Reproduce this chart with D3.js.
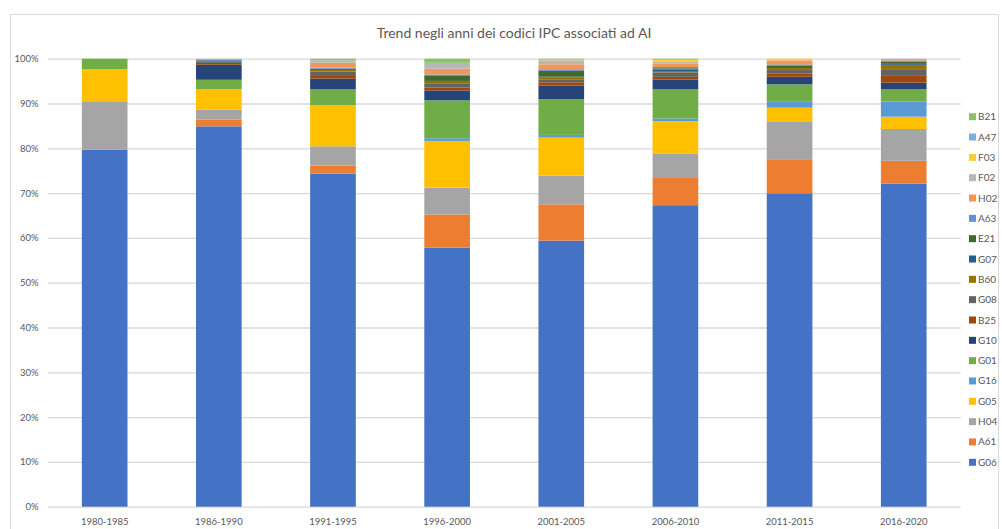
<!DOCTYPE html>
<html>
<head>
<meta charset="utf-8">
<script src="https://cdn.jsdelivr.net/npm/d3@7"></script>
<style>
  html, body { margin: 0; padding: 0; background: #fff; }
  svg { display: block; font-family: Lato, "Open Sans", sans-serif; }
</style>
</head>
<body>
<svg id="chart" width="1002" height="529"></svg>
<script>
// Periods (x categories)
const categories = ["1980-1985", "1986-1990", "1991-1995", "1996-2000", "2001-2005", "2006-2010", "2011-2015", "2016-2020"];

// IPC codes, in stacking order (bottom to top)
const seriesNames = ["G06", "A61", "H04", "G05", "G16", "G01", "G10", "B25", "G08", "B60", "G07", "E21", "A63", "H02", "F02", "F03", "A47", "B21"];

// Share of patents per code and period (%)
const G06 = [79.7, 84.9, 74.3, 57.7, 59.4, 67.3, 69.9, 72.1];
const A61 = [0, 1.5, 1.8, 7.4, 8.1, 6.25, 7.6, 5.1];
const H04 = [10.8, 2.2, 4.3, 6.0, 6.4, 5.2, 8.3, 7.1];
const G05 = [7.2, 4.6, 9.2, 10.4, 8.5, 7.3, 3.2, 2.75];
const G16 = [0, 0, 0, 0.6, 0.6, 0.6, 1.3, 3.35];
const G01 = [2.3, 2.1, 3.5, 8.45, 8.0, 6.5, 3.9, 2.75];
const G10 = [0, 3.35, 2.4, 2.2, 3.0, 2.2, 1.7, 1.5];
const B25 = [0, 0.4, 0.6, 0.67, 0.75, 0.6, 0.67, 1.5];
const G08 = [0, 0.2, 1.0, 0.8, 0.67, 1.0, 0.82, 1.5];
const B60 = [0, 0.1, 0.35, 0.45, 0.37, 0.3, 0.45, 0.97];
const G07 = [0, 0.3, 0.3, 0.2, 0.2, 0.3, 0.22, 0.37];
const E21 = [0, 0, 0, 1.1, 1.3, 0.3, 0.37, 0.3];
const A63 = [0, 0.05, 0.2, 0.35, 0.37, 0.3, 0.22, 0.3];
const H02 = [0, 0.2, 1.1, 1.3, 1.1, 0.75, 0.9, 0.3];
const F02 = [0, 0.1, 0.5, 1.3, 0.9, 0.5, 0, 0.1];
const F03 = [0, 0, 0, 0, 0.15, 0.35, 0.37, 0];
const A47 = [0, 0, 0, 0, 0, 0.1, 0, 0];
const B21 = [0, 0, 0.4, 0.9, 0.2, 0.15, 0, 0];

const seriesValues = { G06, A61, H04, G05, G16, G01, G10, B25, G08, B60, G07, E21, A63, H02, F02, F03, A47, B21 };

// Y axis tick values (fractions of the total)
const yTicks = [0, 0.1, 0.2, 0.3, 0.4, 0.5, 0.6, 0.7, 0.8, 0.9, 1.0];

const colors = {
  G06: "#4472C4", A61: "#ED7D31", H04: "#A5A5A5", G05: "#FFC000", G16: "#5B9BD5",
  G01: "#70AD47", G10: "#264478", B25: "#9E480E", G08: "#636363", B60: "#997300",
  G07: "#255E91", E21: "#43682B", A63: "#698ED0", H02: "#F1975A", F02: "#B7B7B7",
  F03: "#FFCD33", A47: "#7CAFDD", B21: "#8CC168"
};

const title = "Trend negli anni dei codici IPC associati ad AI";

// Build row table for d3.stack
const rows = categories.map((c, i) => {
  const r = { period: c };
  seriesNames.forEach(s => { r[s] = seriesValues[s][i]; });
  return r;
});

const svg = d3.select("#chart");
const textColor = "#595959";
const gridColor = "#D9D9D9";

// Chart frame
svg.append("rect")
  .attr("x", 10.5).attr("y", 14.5)
  .attr("width", 988).attr("height", 530)
  .attr("fill", "#fff").attr("stroke", gridColor).attr("stroke-width", 1);

const plot = { left: 47.6, right: 960.8, top: 58.7, bottom: 506.7 };

const x = d3.scaleBand()
  .domain(categories)
  .range([plot.left, plot.right])
  .paddingInner(0.6)
  .paddingOuter(0.3);

const y = d3.scaleLinear().domain([0, 1]).range([plot.bottom, plot.top]);

// Gridlines + y labels
const yAxis = d3.axisLeft(y)
  .tickValues(yTicks)
  .tickFormat(d3.format(".0%"))
  .tickSize(-(plot.right - plot.left))
  .tickPadding(9);

const gy = svg.append("g")
  .attr("transform", `translate(${plot.left},0)`)
  .call(yAxis);
gy.select(".domain").remove();
gy.selectAll(".tick line").attr("stroke", gridColor).attr("stroke-width", 1.3);
gy.selectAll(".tick text")
  .attr("fill", textColor)
  .style("font-size", "9.5px")
  .style("font-family", "Lato, sans-serif");

// Stacked 100% bars
const stack = d3.stack().keys(seriesNames).offset(d3.stackOffsetExpand);
const layers = stack(rows);

svg.append("g")
  .selectAll("g")
  .data(layers)
  .join("g")
  .attr("fill", d => colors[d.key])
  .selectAll("rect")
  .data(d => d)
  .join("rect")
  .attr("x", d => x(d.data.period))
  .attr("width", x.bandwidth())
  .attr("y", d => y(d[1]))
  .attr("height", d => Math.max(0, y(d[0]) - y(d[1])));

// X axis labels
const xAxis = d3.axisBottom(x).tickSize(0).tickPadding(12);
const gx = svg.append("g")
  .attr("transform", `translate(0,${plot.bottom})`)
  .call(xAxis);
gx.select(".domain").remove();
gx.selectAll(".tick text")
  .attr("fill", textColor)
  .style("font-size", "9.5px")
  .style("font-family", "Lato, sans-serif");

// Title
svg.append("text")
  .attr("x", 514).attr("y", 38)
  .attr("text-anchor", "middle")
  .attr("fill", textColor)
  .style("font-size", "14px")
  .style("font-family", "Lato, sans-serif")
  .text(title);

// Legend (top item = top of the stack)
const legendItems = seriesNames.slice().reverse();
const legend = svg.append("g");
const lg = legend.selectAll("g")
  .data(legendItems)
  .join("g")
  .attr("transform", (d, i) => `translate(969, ${116.7 + i * 20.33})`);
lg.append("rect")
  .attr("x", 0).attr("y", -3.5)
  .attr("width", 7).attr("height", 7)
  .attr("fill", d => colors[d]);
lg.append("text")
  .attr("x", 9).attr("y", 0)
  .attr("dy", "0.35em")
  .attr("fill", textColor)
  .style("font-size", "10px")
  .style("font-family", "Lato, sans-serif")
  .text(d => d);
</script>
</body>
</html>
